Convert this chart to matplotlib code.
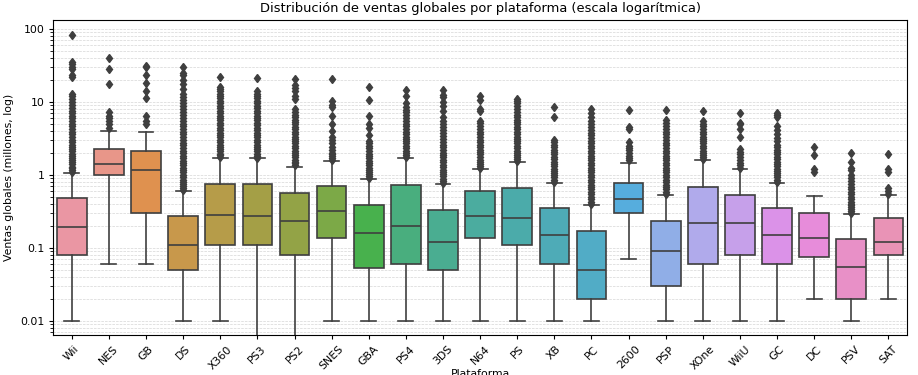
import matplotlib
matplotlib.use("Agg")
import matplotlib.pyplot as plt
import seaborn as sns
from matplotlib.ticker import FuncFormatter

# plataformas en el orden del grafico
platforms = ["Wii", "NES", "GB", "DS", "X360", "PS3", "PS2", "SNES", "GBA", "PS4", "3DS",
             "N64", "PS", "XB", "PC", "2600", "PSP", "XOne", "WiiU", "GC", "DC", "PSV", "SAT"]

# estadisticos de cada caja (millones)
q1 = [0.08, 1.0, 0.30, 0.05, 0.11, 0.11, 0.08, 0.135, 0.053, 0.06, 0.05,
      0.135, 0.11, 0.06, 0.02, 0.30, 0.03, 0.06, 0.08, 0.06, 0.075, 0.02, 0.08]
medians = [0.19, 1.39, 1.16, 0.11, 0.28, 0.27, 0.23, 0.32, 0.16, 0.20, 0.12,
           0.27, 0.26, 0.15, 0.05, 0.46, 0.09, 0.22, 0.22, 0.15, 0.135, 0.055, 0.12]
q3 = [0.48, 2.25, 2.15, 0.27, 0.75, 0.75, 0.57, 0.70, 0.38, 0.73, 0.33,
      0.60, 0.66, 0.35, 0.17, 0.77, 0.23, 0.68, 0.53, 0.35, 0.30, 0.13, 0.26]
whislo = [0.01, 0.06, 0.06, 0.01, 0.01, 0.0001, 0.0001, 0.01, 0.01, 0.01, 0.01,
          0.01, 0.01, 0.01, 0.01, 0.07, 0.01, 0.01, 0.01, 0.01, 0.02, 0.01, 0.02]
whishi = [1.07, 4.0, 3.9, 0.60, 1.70, 1.68, 1.30, 1.55, 0.88, 1.70, 0.76,
          1.20, 1.50, 0.78, 0.39, 1.45, 0.53, 1.58, 1.20, 0.78, 0.52, 0.29, 0.53]

# valores atipicos (aprox.)
fliers = [
    [1.1, 1.16, 1.23, 1.3, 1.4, 1.5, 1.6, 1.7, 1.8, 1.95, 2.1, 2.25, 2.4, 2.6, 2.8, 3.0, 3.3,
     3.6, 3.9, 4.2, 4.6, 5.0, 5.5, 6.0, 6.5, 7.0, 7.6, 8.2, 9.0, 10.0, 11.0, 12.0, 13.0,
     22.0, 23.0, 28.6, 29.8, 33.0, 35.5, 82.5],
    [4.4, 5.0, 5.5, 6.0, 6.5, 7.3, 17.3, 28.3, 40.2],
    [5.0, 5.5, 6.4, 11.2, 14.2, 18.1, 23.1, 30.3, 31.4],
    [0.62, 0.66, 0.7, 0.75, 0.8, 0.86, 0.92, 1.0, 1.08, 1.16, 1.25, 1.35, 1.45, 1.57, 1.7,
     1.83, 2.0, 2.15, 2.35, 2.55, 2.75, 3.0, 3.3, 3.6, 3.9, 4.2, 4.6, 5.0, 5.5, 6.0, 6.6,
     7.2, 8.0, 8.8, 9.5, 10.5, 11.5, 13.0, 15.0, 17.5, 20.0, 23.0, 25.0, 29.8],
    [1.75, 1.85, 1.95, 2.1, 2.25, 2.4, 2.6, 2.8, 3.0, 3.25, 3.5, 3.8, 4.1, 4.4, 4.8, 5.2,
     5.6, 6.0, 6.5, 7.0, 7.6, 8.2, 8.9, 9.6, 10.4, 11.2, 12.1, 13.0, 14.0, 15.0, 16.0, 21.8],
    [1.72, 1.82, 1.95, 2.1, 2.25, 2.4, 2.6, 2.8, 3.0, 3.25, 3.5, 3.8, 4.1, 4.4, 4.8, 5.2,
     5.6, 6.0, 6.5, 7.0, 7.6, 8.2, 8.9, 9.6, 10.4, 11.2, 12.2, 13.0, 14.0, 21.0],
    [1.35, 1.43, 1.52, 1.62, 1.73, 1.85, 2.0, 2.15, 2.3, 2.5, 2.7, 2.9, 3.1, 3.35, 3.6, 3.9,
     4.2, 4.5, 4.9, 5.3, 5.7, 6.2, 6.7, 7.3, 8.0, 11.0, 12.0, 14.0, 15.5, 17.0, 20.8],
    [1.6, 1.7, 1.8, 1.9, 2.0, 2.2, 2.4, 2.7, 3.0, 3.3, 4.0, 5.0, 6.4, 8.5, 9.0, 10.3, 20.6],
    [0.9, 0.96, 1.02, 1.1, 1.18, 1.26, 1.35, 1.45, 1.56, 1.68, 1.8, 1.95, 2.1, 2.3, 2.5,
     2.7, 2.95, 3.5, 4.4, 5.0, 6.5, 10.5, 15.8],
    [1.75, 1.87, 2.0, 2.15, 2.3, 2.5, 2.7, 2.9, 3.1, 3.35, 3.6, 3.9, 4.2, 4.6, 5.0, 5.5,
     6.0, 6.6, 7.2, 7.8, 8.5, 9.7, 12.2, 14.6],
    [0.78, 0.83, 0.89, 0.95, 1.02, 1.1, 1.18, 1.27, 1.37, 1.48, 1.6, 1.73, 1.87, 2.0, 2.2,
     2.4, 2.6, 2.85, 3.1, 3.4, 3.7, 4.1, 4.5, 5.0, 5.5, 6.2, 7.6, 8.9, 9.9, 11.7, 12.6, 14.6],
    [1.25, 1.33, 1.42, 1.52, 1.62, 1.75, 1.9, 2.05, 2.2, 2.4, 2.6, 2.8, 3.0, 3.3, 3.6,
     3.9, 4.3, 4.7, 5.2, 5.5, 7.5, 8.0, 10.5, 11.9],
    [1.55, 1.65, 1.75, 1.87, 2.0, 2.15, 2.3, 2.5, 2.7, 2.9, 3.1, 3.35, 3.6, 3.9, 4.2, 4.5,
     4.9, 5.3, 5.7, 6.2, 6.7, 7.3, 8.0, 8.7, 9.5, 10.3, 11.0],
    [0.8, 0.86, 0.92, 0.99, 1.06, 1.14, 1.22, 1.31, 1.41, 1.52, 1.64, 1.77, 1.9, 2.05, 2.2,
     2.4, 2.6, 2.8, 3.0, 6.3, 8.5],
    [0.4, 0.43, 0.46, 0.5, 0.54, 0.58, 0.63, 0.68, 0.73, 0.79, 0.85, 0.92, 1.0, 1.08, 1.16,
     1.25, 1.35, 1.46, 1.58, 1.7, 1.84, 2.0, 2.15, 2.3, 2.5, 2.7, 2.9, 3.2, 3.5, 3.8, 4.1,
     4.5, 5.0, 5.5, 6.2, 7.0, 8.0],
    [1.6, 1.7, 1.8, 2.0, 2.2, 2.3, 2.5, 2.8, 4.2, 4.5, 7.8],
    [0.55, 0.59, 0.63, 0.68, 0.73, 0.79, 0.85, 0.92, 1.0, 1.08, 1.16, 1.25, 1.35, 1.46,
     1.58, 1.7, 1.84, 2.0, 2.15, 2.35, 2.55, 2.75, 3.0, 3.3, 3.6, 3.9, 4.3, 4.7, 5.1, 5.6, 7.7],
    [1.65, 1.76, 1.88, 2.0, 2.15, 2.3, 2.5, 2.7, 2.9, 3.1, 3.35, 3.6, 3.9, 4.2, 4.6, 5.0,
     5.5, 7.4],
    [1.25, 1.35, 1.45, 1.6, 1.75, 1.9, 2.05, 2.25, 3.3, 4.3, 4.9, 5.2, 7.1],
    [0.8, 0.86, 0.92, 0.99, 1.06, 1.14, 1.22, 1.31, 1.41, 1.52, 1.64, 1.77, 1.9, 2.05, 2.2,
     2.4, 2.6, 2.9, 3.2, 3.6, 4.1, 4.7, 6.2, 6.6, 7.0],
    [1.1, 1.2, 1.85, 2.4],
    [0.3, 0.32, 0.34, 0.36, 0.38, 0.4, 0.43, 0.46, 0.5, 0.54, 0.58, 0.63, 0.68, 0.75, 0.82,
     0.9, 1.0, 1.15, 1.25, 1.5, 2.0],
    [0.55, 0.6, 0.65, 1.1, 1.2, 1.95],
]

stats = []
for i, p in enumerate(platforms):
    stats.append(dict(label=p, q1=q1[i], med=medians[i], q3=q3[i],
                      whislo=whislo[i], whishi=whishi[i], fliers=fliers[i]))

colors = [sns.desaturate(c, 0.75) for c in sns.husl_palette(len(platforms), l=0.7)]
gray = "#3f3f3f"
lw = 1.2

fig, ax = plt.subplots(figsize=(9.18, 3.75), dpi=100)
fig.subplots_adjust(left=0.058, right=0.988, top=0.947, bottom=0.107)

bp = ax.bxp(stats, positions=range(len(platforms)), widths=0.8, patch_artist=True,
            boxprops=dict(edgecolor=gray, linewidth=lw),
            medianprops=dict(color=gray, linewidth=lw),
            whiskerprops=dict(color=gray, linewidth=lw),
            capprops=dict(color=gray, linewidth=lw),
            flierprops=dict(marker="d", markerfacecolor=gray, markeredgecolor=gray,
                            markersize=4.3, linestyle="none"),
            capwidths=0.4)
for patch, c in zip(bp["boxes"], colors):
    patch.set_facecolor(c)

ax.set_yscale("log")
ax.set_ylim(0.0064, 133)
ax.set_xlim(-0.5, len(platforms) - 0.5)
ax.yaxis.set_major_formatter(FuncFormatter(lambda v, pos: "{:g}".format(v)))
ax.grid(True, which="both", axis="y", linestyle="--", linewidth=0.5, color="#cccccc", alpha=0.8)
ax.set_axisbelow(True)
ax.tick_params(labelsize=7.8, width=0.8, length=3)
ax.tick_params(which="minor", width=0.6, length=2)
for s in ax.spines.values():
    s.set_linewidth(0.8)

ax.set_xticks(range(len(platforms)))
ax.set_xticklabels(platforms, rotation=45)
ax.set_title("Distribución de ventas globales por plataforma (escala logarítmica)", fontsize=9.4)
ax.set_xlabel("Plataforma", fontsize=7.8, labelpad=-2)
ax.set_ylabel("Ventas globales (millones, log)", fontsize=7.8)

fig.savefig("out.png", dpi=100)
